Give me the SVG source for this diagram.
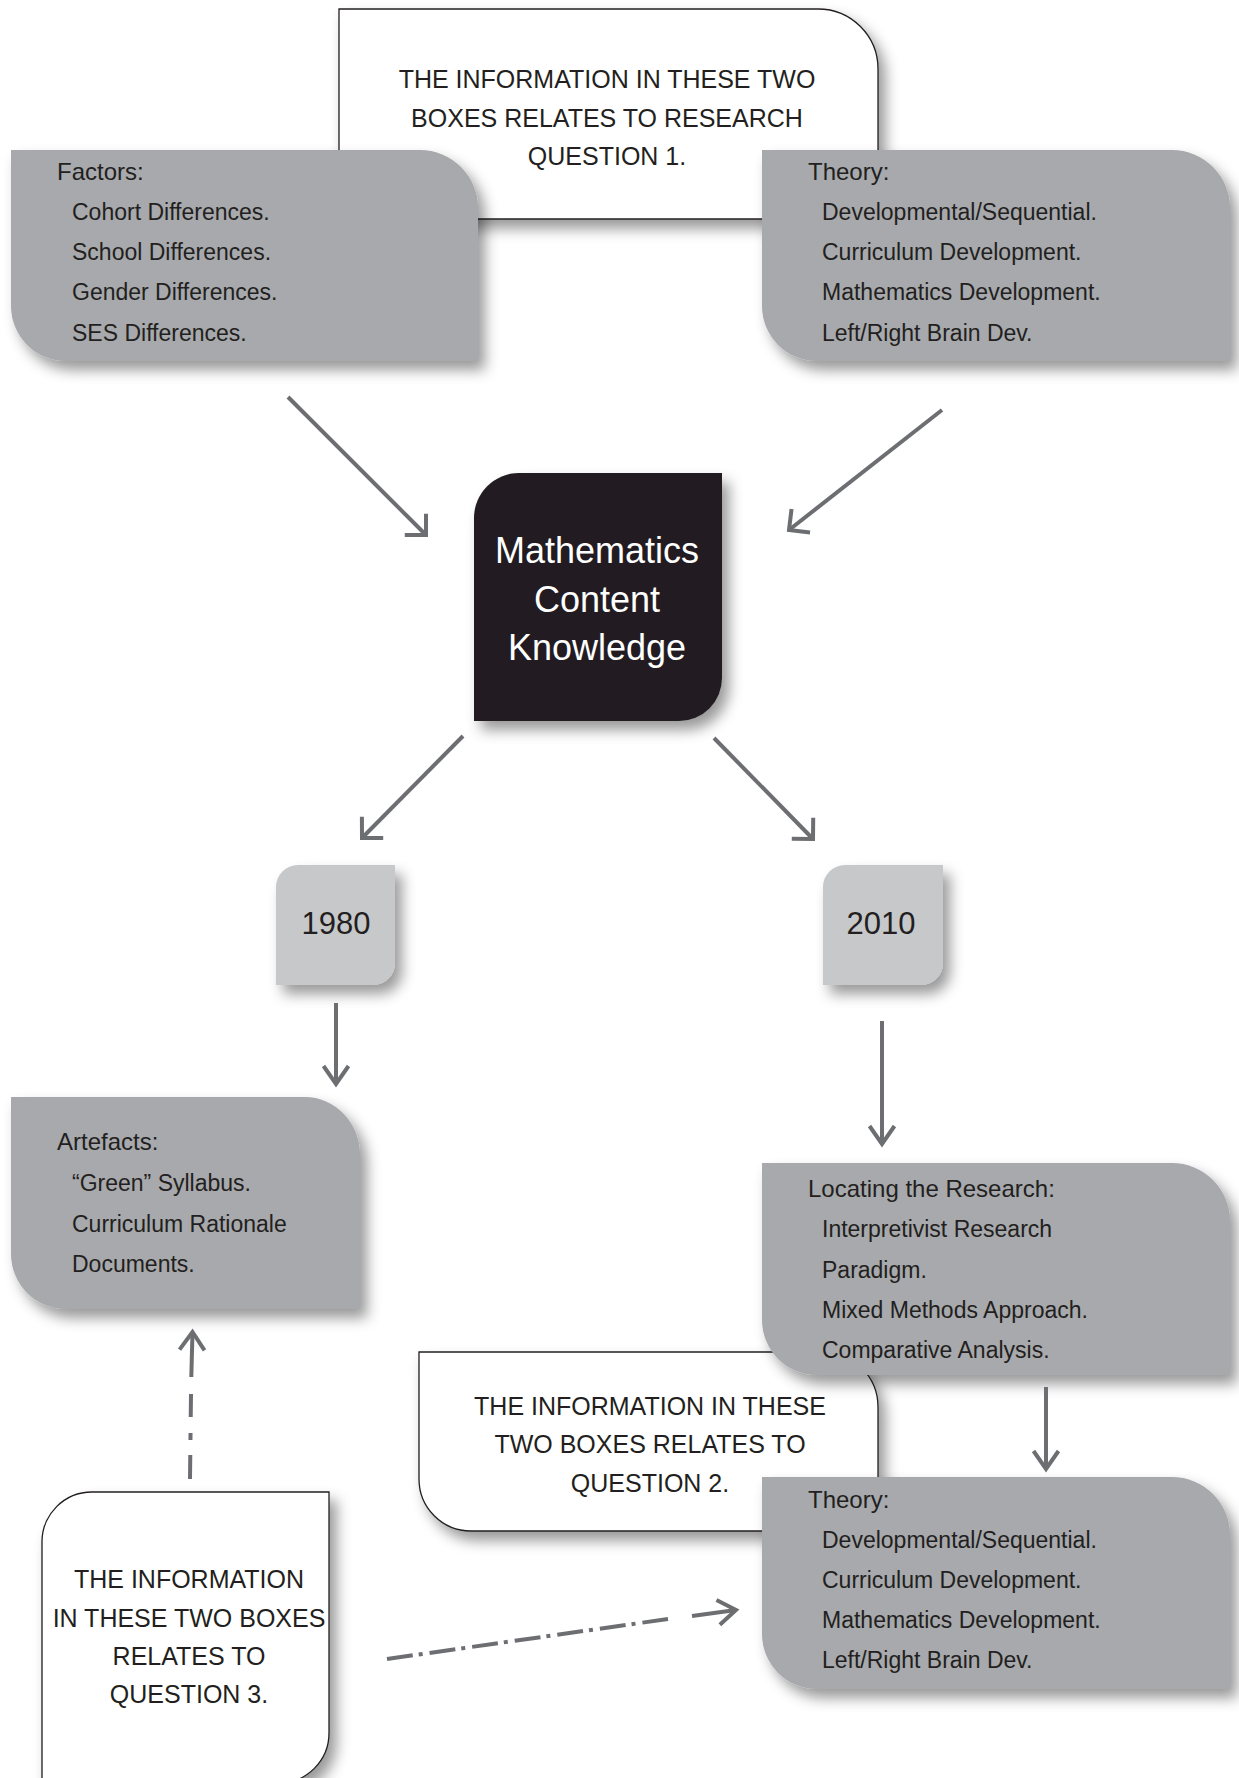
<svg xmlns="http://www.w3.org/2000/svg" width="1239" height="1778" viewBox="0 0 1239 1778">
<defs>
<filter id="sh" x="-10%" y="-10%" width="130%" height="140%">
<feDropShadow dx="7" dy="9" stdDeviation="7" flood-color="#000" flood-opacity="0.4"/>
</filter>
<marker id="arrD" markerUnits="userSpaceOnUse" markerWidth="30" markerHeight="30" refX="0" refY="0" orient="auto" overflow="visible">
<path d="M-15,-15 L0,0 L-15,15" fill="none" stroke="#6d6e71" stroke-width="4"/>
</marker>
<marker id="arrV" markerUnits="userSpaceOnUse" markerWidth="30" markerHeight="30" refX="0" refY="0" orient="auto" overflow="visible">
<path d="M-18,-12.5 L0,0 L-18,12.5" fill="none" stroke="#6d6e71" stroke-width="4"/>
</marker>
</defs>
<style>
.gray{fill:#a7a9ac;filter:url(#sh)}
.year{fill:#c7c8ca;filter:url(#sh)}
.white{fill:#fff;stroke:#231f20;stroke-width:1.3;filter:url(#sh)}
.dark{fill:#231f20;filter:url(#sh)}
text{font-family:"Liberation Sans",Arial,Helvetica,sans-serif;fill:#231f20}
.h{font-size:24px}
.i{font-size:23px}
.q{font-size:25px;text-anchor:middle}
.c{font-size:36px;fill:#fff;text-anchor:middle}
.y{font-size:31px;text-anchor:middle}
.ln{stroke:#6d6e71;stroke-width:4;fill:none}
</style>
<rect width="1239" height="1778" fill="#fff"/>

<g id="q1">
<path class="white" d="M339,9 H818 A60,60 0 0 1 878,69 V219 H339 Z"/>
<text class="q" x="607" y="88">THE INFORMATION IN THESE TWO</text>
<text class="q" x="607" y="127">BOXES RELATES TO RESEARCH</text>
<text class="q" x="607" y="165">QUESTION 1.</text>
</g>

<g id="factors">
<path class="gray" d="M11,150 H420 A58,58 0 0 1 478,208 V361 H66 A55,55 0 0 1 11,306 Z"/>
<text class="h" x="57" y="180">Factors:</text>
<text class="i" x="72" y="220">Cohort Differences.</text>
<text class="i" x="72" y="260">School Differences.</text>
<text class="i" x="72" y="300">Gender Differences.</text>
<text class="i" x="72" y="341">SES Differences.</text>
</g>

<g id="theory1">
<path class="gray" d="M762,150 H1172 A58,58 0 0 1 1230,208 V361 H817 A55,55 0 0 1 762,306 Z"/>
<text class="h" x="808" y="180">Theory:</text>
<text class="i" x="822" y="220">Developmental/Sequential.</text>
<text class="i" x="822" y="260">Curriculum Development.</text>
<text class="i" x="822" y="300">Mathematics Development.</text>
<text class="i" x="822" y="341">Left/Right Brain Dev.</text>
</g>

<g id="mck">
<path class="dark" d="M474,518 A45,45 0 0 1 519,473 H722 V678 A43,43 0 0 1 679,721 H474 Z"/>
<text class="c" x="597" y="563">Mathematics</text>
<text class="c" x="597" y="612">Content</text>
<text class="c" x="597" y="660">Knowledge</text>
</g>

<g id="y1980">
<path class="year" d="M276,887 A22,22 0 0 1 298,865 H395 V963 A22,22 0 0 1 373,985 H276 Z"/>
<text class="y" x="336" y="934">1980</text>
</g>

<g id="y2010">
<path class="year" d="M823,887 A22,22 0 0 1 845,865 H943 V963 A22,22 0 0 1 921,985 H823 Z"/>
<text class="y" x="881" y="934">2010</text>
</g>

<g id="artefacts">
<path class="gray" d="M11,1097 H305 A55,58 0 0 1 360,1155 V1309 H66 A55,55 0 0 1 11,1254 Z"/>
<text class="h" x="57" y="1150">Artefacts:</text>
<text class="i" x="72" y="1191">“Green” Syllabus.</text>
<text class="i" x="72" y="1232">Curriculum Rationale</text>
<text class="i" x="72" y="1272">Documents.</text>
</g>

<g id="q2">
<path class="white" d="M419,1352 H823 A55,55 0 0 1 878,1407 V1531 H471 A52,52 0 0 1 419,1479 Z"/>
<text class="q" x="650" y="1415">THE INFORMATION IN THESE</text>
<text class="q" x="650" y="1453">TWO BOXES RELATES TO</text>
<text class="q" x="650" y="1492">QUESTION 2.</text>
</g>

<g id="locating">
<path class="gray" d="M762,1163 H1172 A58,58 0 0 1 1230,1221 V1375 H817 A55,55 0 0 1 762,1320 Z"/>
<text class="h" x="808" y="1197">Locating the Research:</text>
<text class="i" x="822" y="1237">Interpretivist Research</text>
<text class="i" x="822" y="1278">Paradigm.</text>
<text class="i" x="822" y="1318">Mixed Methods Approach.</text>
<text class="i" x="822" y="1358">Comparative Analysis.</text>
</g>

<g id="theory2">
<path class="gray" d="M762,1477 H1172 A58,58 0 0 1 1230,1535 V1689 H817 A55,55 0 0 1 762,1634 Z"/>
<text class="h" x="808" y="1508">Theory:</text>
<text class="i" x="822" y="1548">Developmental/Sequential.</text>
<text class="i" x="822" y="1588">Curriculum Development.</text>
<text class="i" x="822" y="1628">Mathematics Development.</text>
<text class="i" x="822" y="1668">Left/Right Brain Dev.</text>
</g>

<g id="q3">
<path class="white" d="M42,1542 A50,50 0 0 1 92,1492 H329 V1733 A50,50 0 0 1 279,1783 H42 Z"/>
<text class="q" x="189" y="1588">THE INFORMATION</text>
<text class="q" x="189" y="1627">IN THESE TWO BOXES</text>
<text class="q" x="189" y="1665">RELATES TO</text>
<text class="q" x="189" y="1703">QUESTION 3.</text>
</g>

<g id="connectors">
<line class="ln" x1="288" y1="397" x2="426" y2="535" marker-end="url(#arrD)"/>
<line class="ln" x1="942" y1="410" x2="789" y2="530" marker-end="url(#arrD)"/>
<line class="ln" x1="463" y1="736" x2="362" y2="838" marker-end="url(#arrD)"/>
<line class="ln" x1="714" y1="738" x2="813" y2="839" marker-end="url(#arrD)"/>
<line class="ln" x1="336" y1="1003" x2="336" y2="1084" marker-end="url(#arrV)"/>
<line class="ln" x1="882" y1="1021" x2="882" y2="1144" marker-end="url(#arrV)"/>
<line class="ln" x1="1046" y1="1387" x2="1046" y2="1469" marker-end="url(#arrV)"/>
<line class="ln" x1="190" y1="1479" x2="191" y2="1394" stroke-dasharray="24 15 7 16"/>
<line class="ln" x1="191.3" y1="1377" x2="192.5" y2="1332" marker-end="url(#arrV)"/>
<line class="ln" x1="387" y1="1659" x2="668" y2="1619" stroke-dasharray="26 6 4 7"/>
<line class="ln" x1="692" y1="1616" x2="736" y2="1610" marker-end="url(#arrV)"/>
</g>
</svg>
